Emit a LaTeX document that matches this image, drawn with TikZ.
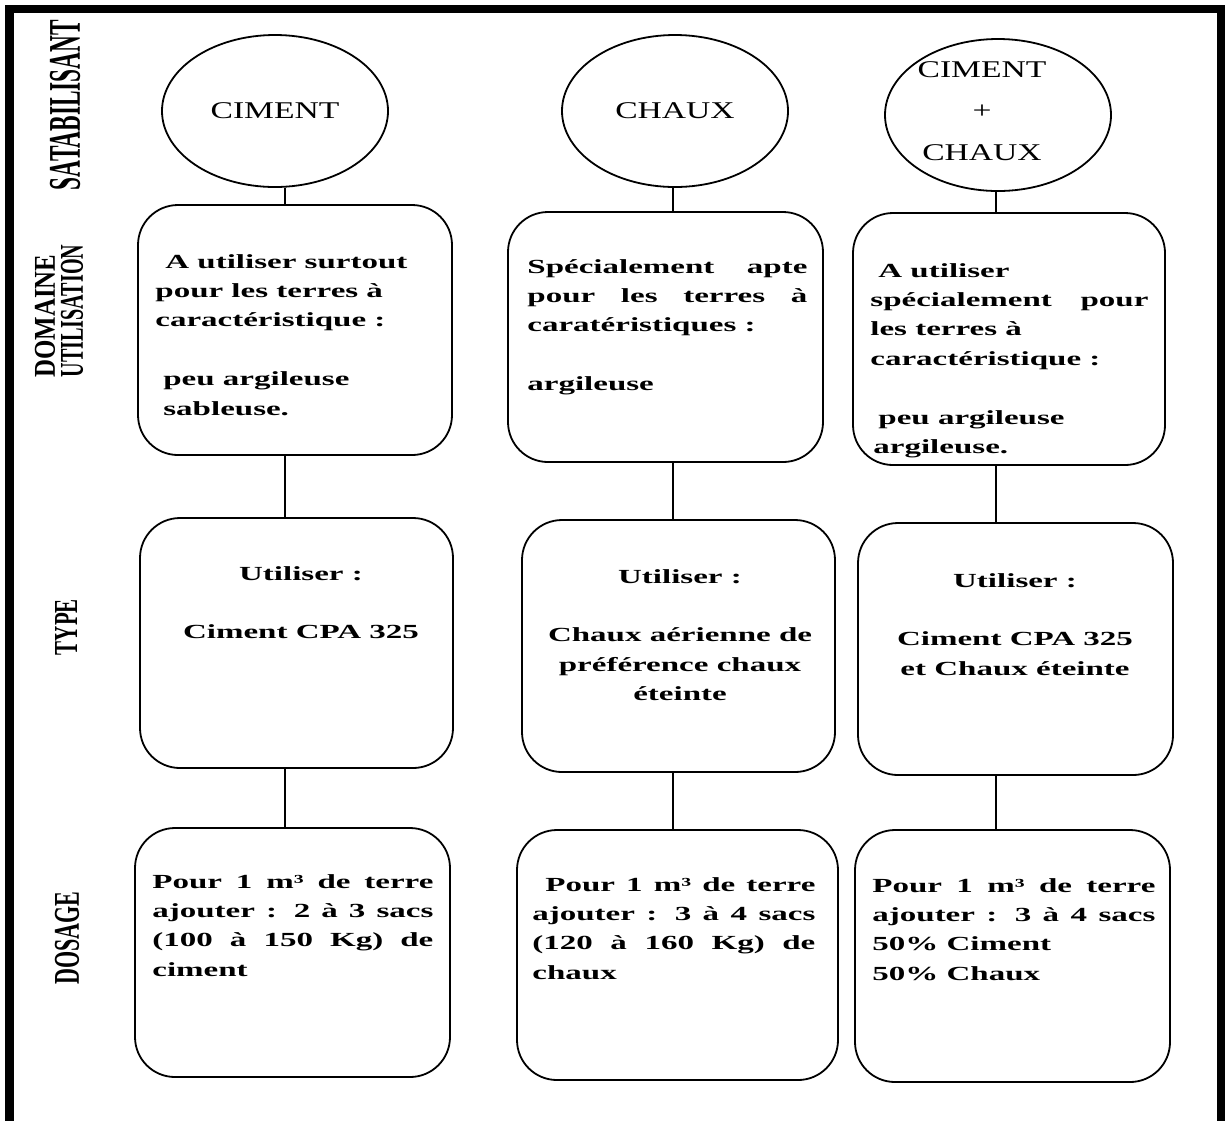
\documentclass[tikz,border=0pt]{standalone}
\usepackage{fontspec}
\usepackage{graphicx}
\usetikzlibrary{shapes.geometric}
\setmainfont{Liberation Serif}
\newfontfamily\boxfont[FakeStretch=1.65]{Liberation Serif}
\newfontfamily\circfont[FakeStretch=1.4]{Liberation Serif}
\newlength\upx \setlength\upx{0.5pt}
\newcommand\boxtxt{\boxfont\bfseries\fontsize{10pt}{14.7pt}\selectfont}
\newcommand\circtxt{\circfont\fontsize{12pt}{20.75pt}\selectfont}
\newcommand\sidelab[3]{\resizebox{#1\upx}{#2\upx}{\bfseries #3}}
\tikzset{
  rbox/.style n args={2}{draw, line width=0.9pt, rounded corners=20pt, inner sep=0pt,
     minimum width=#1*0.5pt, minimum height=#2*0.5pt},
  circ/.style={draw, ellipse, line width=0.9pt, inner sep=0pt,
     minimum width=226*0.5pt, minimum height=152*0.5pt, font=\circtxt},
  conn/.style={line width=0.9pt},
  txt/.style={anchor=base west, inner sep=0pt},
  ctxt/.style={anchor=base, inner sep=0pt},
  lab/.style={rotate=90, inner sep=0pt}
}
\begin{document}
\begin{tikzpicture}[x=0.5pt, y=-0.5pt]
\useasboundingbox (0,0) rectangle (1225,1121);
% frame
\fill[black] (5,5) rectangle (14,1121);
\fill[black] (5,5) rectangle (1225,13);
\fill[black] (1217,5) rectangle (1225,1121);

% side labels
\node[lab] (lsat) at (65,105) {\sidelab{170}{30}{SATABILISANT}};
\node[lab] (ldom) at (45,316) {\sidelab{123}{20}{DOMAINE}};
\node[lab] (luti) at (72,311) {\sidelab{133}{22}{UTILISATION}};
\node[lab] (ltyp) at (66,627) {\sidelab{56}{22}{TYPE}};
\node[lab] (ldos) at (67,938) {\sidelab{93}{24}{DOSAGE}};

% circles
\node[circ] (c1) at (275,111) {CIMENT};
\node[circ] (c2) at (675,111) {CHAUX};
\node[circ] (c3) at (998,115) {};
\node[ctxt] (t3c) at (982,77) {\parbox[t]{200\upx}{\circtxt\centering CIMENT\\+\\CHAUX}};

% boxes
\node[rbox={314}{250}] (b11) at (295,330) {};
\node[rbox={315}{250}] (b21) at (665.5,337) {};
\node[rbox={312}{252}] (b31) at (1009,339) {};
\node[rbox={313}{250}] (b12) at (296.5,643) {};
\node[rbox={313}{252}] (b22) at (678.5,646) {};
\node[rbox={315}{252}] (b32) at (1015.5,649) {};
\node[rbox={315}{249}] (b13) at (292.5,952.5) {};
\node[rbox={321}{250}] (b23) at (677.5,955) {};
\node[rbox={315}{252}] (b33) at (1012.5,956) {};

% connectors
\coordinate (k1) at (285,0);
\coordinate (k2) at (673,0);
\coordinate (k3) at (996,0);
\draw[conn] (c1.south -| k1) -- (b11.north -| k1);
\draw[conn] (b11.south -| k1) -- (b12.north -| k1);
\draw[conn] (b12.south -| k1) -- (b13.north -| k1);
\draw[conn] (c2.south -| k2) -- (b21.north -| k2);
\draw[conn] (b21.south -| k2) -- (b22.north -| k2);
\draw[conn] (b22.south -| k2) -- (b23.north -| k2);
\draw[conn] (c3.south -| k3) -- (b31.north -| k3);
\draw[conn] (b31.south -| k3) -- (b32.north -| k3);
\draw[conn] (b32.south -| k3) -- (b33.north -| k3);

% row 1 texts
\node[txt] (t11) at (155,268) {\parbox[t]{300\upx}{\boxtxt
\hspace*{10\upx}A utiliser surtout\\
pour les terres à\\
caractéristique :\\
\mbox{}\\
\hspace*{8\upx}peu argileuse\\
\hspace*{8\upx}sableuse.}};
\node[txt] (t21) at (527,273) {\parbox[t]{290\upx}{\boxtxt
\makebox[280\upx][s]{Spécialement apte}\\
\makebox[280\upx][s]{pour les terres à}\\
caratéristiques :\\
\mbox{}\\
argileuse}};
\node[txt] (t31) at (870,277) {\parbox[t]{290\upx}{\boxtxt
\hspace*{8\upx}A utiliser\\
\makebox[278\upx][s]{spécialement pour}\\
les terres à\\
caractéristique :\\
\mbox{}\\
\hspace*{8\upx}peu argileuse\\
\hspace*{3\upx}argileuse.}};

% row 2 texts
\node[ctxt] (t12) at (301,580) {\parbox[t]{300\upx}{\boxtxt\centering
Utiliser :\\
\mbox{}\\
Ciment CPA 325}};
\node[ctxt] (t22) at (680,583) {\parbox[t]{300\upx}{\boxtxt\centering
Utiliser :\\
\mbox{}\\
Chaux aérienne de\\
préférence chaux\\
éteinte}};
\node[ctxt] (t32) at (1015,587) {\parbox[t]{300\upx}{\boxtxt\centering
Utiliser :\\
\mbox{}\\
Ciment CPA 325\\
et Chaux éteinte}};

% row 3 texts
\node[txt] (t13) at (152,888) {\parbox[t]{290\upx}{\boxtxt
\makebox[281\upx][s]{Pour 1 m³ de terre}\\
\makebox[281\upx][s]{ajouter : 2 à 3 sacs}\\
\makebox[281\upx][s]{(100 à 150 Kg) de}\\
ciment}};
\node[txt] (t23) at (532,891) {\parbox[t]{290\upx}{\boxtxt
\hspace*{13\upx}\makebox[270\upx][s]{Pour 1 m³ de terre}\\
\makebox[283\upx][s]{ajouter : 3 à 4 sacs}\\
\makebox[283\upx][s]{(120 à 160 Kg) de}\\
chaux}};
\node[txt] (t33) at (872,892) {\parbox[t]{290\upx}{\boxtxt
\makebox[283\upx][s]{Pour 1 m³ de terre}\\
\makebox[283\upx][s]{ajouter : 3 à 4 sacs}\\
50\% Ciment\\
50\% Chaux}};
\end{tikzpicture}
\end{document}
